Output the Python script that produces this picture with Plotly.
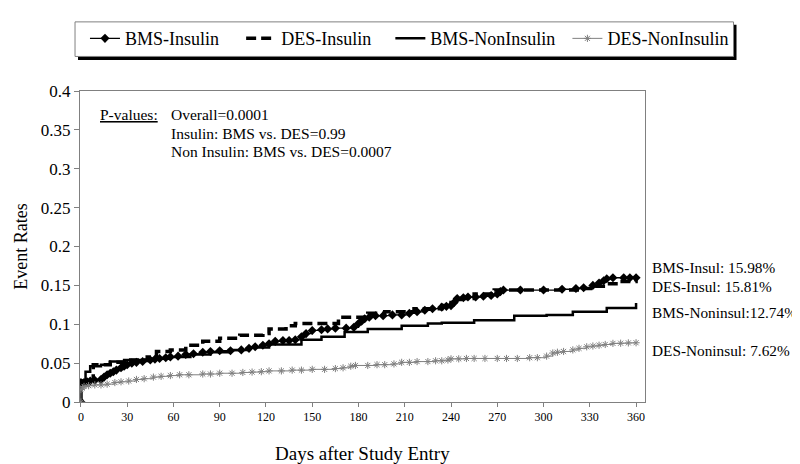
import plotly.graph_objects as go

# ---- data ----
bms_ins_days = [0, 0, 2, 4, 6, 9, 13, 15, 17, 19, 21, 23, 26, 28, 30, 33, 36, 40, 45, 48, 51, 55, 58, 63, 68, 73, 79, 84, 90, 97, 104, 109, 113, 118, 122, 126, 131, 135, 139, 143, 146, 150, 156, 160, 165, 172, 177, 180, 182, 184, 187, 191, 196, 202, 208, 213, 218, 223, 228, 234, 237, 240, 242, 244, 248, 251, 256, 261, 266, 270, 272, 274, 285, 300, 312, 321, 326, 332, 336, 339, 341, 345, 352, 356, 360]
bms_ins_vals = [0, 0.025, 0.025, 0.026, 0.027, 0.028, 0.029, 0.032, 0.035, 0.037, 0.039, 0.041, 0.044, 0.046, 0.048, 0.050, 0.051, 0.052, 0.054, 0.055, 0.056, 0.057, 0.058, 0.059, 0.061, 0.062, 0.064, 0.065, 0.066, 0.066, 0.067, 0.069, 0.071, 0.073, 0.075, 0.078, 0.079, 0.079, 0.080, 0.084, 0.088, 0.092, 0.093, 0.094, 0.095, 0.095, 0.096, 0.101, 0.104, 0.107, 0.109, 0.111, 0.111, 0.112, 0.112, 0.114, 0.116, 0.118, 0.120, 0.122, 0.123, 0.124, 0.128, 0.133, 0.134, 0.135, 0.135, 0.136, 0.137, 0.139, 0.142, 0.144, 0.144, 0.144, 0.145, 0.146, 0.147, 0.150, 0.153, 0.156, 0.1585, 0.1598, 0.1598, 0.1598, 0.1598]

des_ins_days = [0, 0, 8, 19, 30, 43, 49, 58, 68, 79, 90, 103, 118, 122, 133, 139, 167, 186, 197, 216, 234, 240, 246, 255, 268, 323, 332, 341, 351, 360]
des_ins_vals = [0, 0.027, 0.048, 0.051, 0.054, 0.058, 0.065, 0.067, 0.073, 0.078, 0.082, 0.086, 0.088, 0.094, 0.098, 0.101, 0.109, 0.114, 0.116, 0.120, 0.124, 0.128, 0.133, 0.139, 0.144, 0.146, 0.149, 0.152, 0.155, 0.1581]

bms_non_days = [0, 0, 3, 6, 13, 19, 28, 45, 58, 71, 84, 96, 109, 122, 143, 156, 171, 186, 208, 225, 234, 255, 281, 302, 319, 341, 360]
bms_non_vals = [0, 0.027, 0.039, 0.046, 0.048, 0.052, 0.054, 0.0555, 0.058, 0.061, 0.064, 0.067, 0.070, 0.074, 0.080, 0.084, 0.090, 0.094, 0.098, 0.101, 0.102, 0.105, 0.111, 0.112, 0.116, 0.121, 0.1274]

des_non_days = [0, 0, 1, 2, 5, 9, 13, 17, 22, 26, 31, 36, 41, 47, 52, 58, 64, 70, 79, 84, 90, 98, 105, 111, 117, 122, 130, 137, 143, 150, 158, 165, 170, 175, 178, 186, 192, 197, 203, 208, 213, 218, 225, 230, 234, 238, 240, 245, 250, 255, 262, 270, 276, 283, 291, 296, 302, 306, 309, 313, 319, 323, 328, 332, 336, 340, 345, 350, 355, 360]
des_non_vals = [0, 0.016, 0.018, 0.020, 0.021, 0.022, 0.022, 0.023, 0.025, 0.026, 0.027, 0.029, 0.030, 0.032, 0.033, 0.034, 0.035, 0.035, 0.036, 0.036, 0.037, 0.037, 0.038, 0.0385, 0.039, 0.040, 0.040, 0.041, 0.041, 0.042, 0.042, 0.043, 0.044, 0.046, 0.047, 0.047, 0.048, 0.048, 0.049, 0.051, 0.051, 0.052, 0.052, 0.053, 0.053, 0.054, 0.0555, 0.0555, 0.056, 0.056, 0.056, 0.056, 0.056, 0.056, 0.057, 0.057, 0.059, 0.063, 0.064, 0.065, 0.067, 0.069, 0.071, 0.072, 0.073, 0.074, 0.0754, 0.0756, 0.076, 0.0762]

x_ticks = [0, 30, 60, 90, 120, 150, 180, 210, 240, 270, 300, 330, 360]
y_ticks = [0, 0.05, 0.1, 0.15, 0.2, 0.25, 0.3, 0.35, 0.4]
y_tick_labels = ["0", "0.05", "0.1", "0.15", "0.2", "0.25", "0.3", "0.35", "0.4"]

end_labels = ["BMS-Insul: 15.98%", "DES-Insul: 15.81%", "BMS-Noninsul:12.74%", "DES-Noninsul: 7.62%"]
end_label_y = [0.1727, 0.1486, 0.1156, 0.066]

pvalue_lines = ["Overall=0.0001", "Insulin: BMS vs. DES=0.99", "Non Insulin: BMS vs. DES=0.0007"]

FONT = "Liberation Serif, Times New Roman, serif"

# plot area geometry in pixels
W, H = 800, 464
L, R, T, B = 69, 163, 79, 70
PW, PH = W - L - R, H - T - B


def px(x):
    return (x - L) / PW


def py(y):
    return (H - B - y) / PH


fig = go.Figure()
fig.add_trace(go.Scatter(x=bms_ins_days, y=bms_ins_vals, name="BMS-Insulin", mode="lines+markers",
                         line=dict(color="black", width=1.3, shape="hv"),
                         marker=dict(symbol="diamond", size=7, color="black"), legend="legend"))
fig.add_trace(go.Scatter(x=des_ins_days, y=des_ins_vals, name="DES-Insulin", mode="lines",
                         line=dict(color="black", width=3.5, shape="hv", dash="10px,5px"), legend="legend2"))
fig.add_trace(go.Scatter(x=bms_non_days, y=bms_non_vals, name="BMS-NonInsulin", mode="lines",
                         line=dict(color="black", width=2.5, shape="hv"), legend="legend3"))
fig.add_trace(go.Scatter(x=des_non_days, y=des_non_vals, name="DES-NonInsulin", mode="lines+markers",
                         line=dict(color="#808080", width=1, shape="hv"),
                         marker=dict(symbol="asterisk-open", size=6, color="#808080",
                                     line=dict(color="#707070", width=1)), legend="legend4"))

annotations = []
for txt, yv in zip(end_labels, end_label_y):
    annotations.append(dict(x=px(642), y=yv, xref="paper", yref="y", text=txt, showarrow=False,
                            xanchor="left", yanchor="middle", font=dict(family=FONT, size=15.3, color="black")))

annotations.append(dict(x=px(87), y=py(103), xref="paper", yref="paper", text="<u>P-values:</u>",
                        showarrow=False, xanchor="left", yanchor="middle",
                        font=dict(family=FONT, size=15.5, color="black")))
for i, txt in enumerate(pvalue_lines):
    annotations.append(dict(x=px(158), y=py(103 + 18.7 * i), xref="paper", yref="paper", text=txt,
                            showarrow=False, xanchor="left", yanchor="middle",
                            font=dict(family=FONT, size=15.5, color="black")))

annotations.append(dict(x=0.5, y=py(446), xref="paper", yref="paper", text="Days after Study Entry",
                        showarrow=False, xanchor="center", yanchor="middle",
                        font=dict(family=FONT, size=19, color="black")))

shapes = [
    dict(type="rect", xref="paper", yref="paper", x0=px(67), x1=px(729), y0=py(47.5), y1=py(12),
         fillcolor="black", line=dict(width=0), layer="below"),
    dict(type="rect", xref="paper", yref="paper", x0=px(64), x1=px(726), y0=py(44), y1=py(9),
         fillcolor="white", line=dict(color="#808080", width=1), layer="below"),
]

legend_x_px = [74, 231, 381, 559]
legend_common = dict(orientation="h", yanchor="middle", xanchor="left", bgcolor="rgba(0,0,0,0)",
                     font=dict(family=FONT, size=18, color="black"), itemwidth=30)
legends = {}
for i, lx in enumerate(legend_x_px):
    key = "legend" if i == 0 else "legend%d" % (i + 1)
    legends[key] = dict(x=px(lx), y=py(26), **legend_common)

fig.update_layout(
    width=W, height=H,
    margin=dict(l=L, r=R, t=T, b=B),
    plot_bgcolor="white", paper_bgcolor="white",
    font=dict(family=FONT, color="black"),
    showlegend=True,
    annotations=annotations,
    shapes=shapes,
    xaxis=dict(range=[-0.6, 365.8], tickvals=x_ticks, ticks="outside", ticklen=4, tickcolor="#808080",
               showline=True, linecolor="#808080", linewidth=1, mirror=True, showgrid=False, zeroline=False,
               tickfont=dict(family=FONT, size=12, color="black")),
    yaxis=dict(range=[0, 0.4], tickvals=y_ticks, ticktext=y_tick_labels, ticks="outside", ticklen=5,
               tickcolor="#808080", showline=True, linecolor="#808080", linewidth=1, mirror=True,
               showgrid=False, zeroline=False, tickfont=dict(family=FONT, size=17, color="black"),
               title=dict(text="Event Rates", font=dict(family=FONT, size=18, color="black"), standoff=8)),
    **legends,
)

fig.write_html("out.html")
